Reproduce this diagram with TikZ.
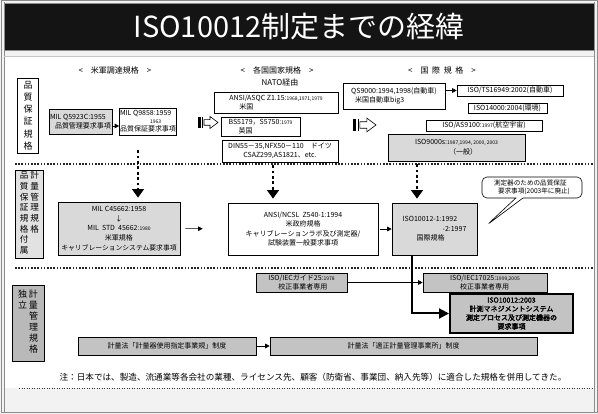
\documentclass[tikz,border=0pt]{standalone}
\usepackage{fontspec}
\setmainfont{Noto Sans CJK JP}
\newfontfamily\jpbold[FakeBold=2]{Noto Sans CJK JP}
\usetikzlibrary{arrows.meta,shapes.callouts}
\definecolor{pagebg}{HTML}{F2F2F2}
\definecolor{lg}{HTML}{D9D9D9}
\definecolor{mg}{HTML}{C3C3C3}
\definecolor{lab}{HTML}{E2E2E2}
\definecolor{labd}{HTML}{B9B9B9}
\definecolor{frm}{HTML}{8C8C8C}
\newcommand\myfs{\fontsize{7}{9.6}\selectfont}
\newcommand\myyr[1]{{\fontsize{5}{5}\selectfont #1}}
\begin{document}
\begin{tikzpicture}[x=1pt,y=-1pt,
  base/.style={inner sep=0.5pt, font=\myfs, align=left},
  sz/.style 2 args={minimum width=#1pt, minimum height=#2pt},
  wbox/.style={base, draw, fill=white, line width=0.6pt},
  gbox/.style={base, draw, fill=lg, line width=0.6pt},
  dbox/.style={base, draw, fill=mg, line width=0.6pt},
  hdr/.style={font=\fontsize{8}{9}\selectfont, inner sep=0pt},
  arr/.style={-{Triangle[length=4.5pt,width=4.5pt]}, line width=0.6pt},
  dotarr/.style={line width=2.8pt, dash pattern=on 2.8pt off 2.6pt, -{Triangle[length=8.5pt,width=11.5pt]}},
  thickarr/.style={line width=2pt, -{Triangle[length=10pt,width=10pt]}},
  sepline/.style={line width=1.6pt, dash pattern=on 1.6pt off 1.6pt, black!85},
  hollow/.pic={
    \fill[black] (0,-5.5) rectangle (2.6,5.5);
    \draw[line width=0.8pt] (4.4,-5.5) -- (4.4,5.5);
    \draw[line width=0.6pt, fill=white] (6,-2.8) -- (12,-2.8) -- (12,-6) -- (20,0) -- (12,6) -- (12,2.8) -- (6,2.8) -- cycle;
  }]
\useasboundingbox (0,0) rectangle (598,414);
% page frame
\fill[pagebg] (0,0) rectangle (598,414);
\fill[white] (4,57) rectangle (594,388);
\draw[frm, line width=1pt] (1,1) rectangle (597,413);
\draw[frm, line width=0.6pt] (4,2) -- (4,412) (594,2) -- (594,412);
\node[fill=black!92, draw=frm, line width=0.8pt, minimum width=590pt, minimum height=47pt, inner sep=0pt,
  text=white, font=\fontsize{29}{32}\selectfont] (title) at (299,26.5) {ISO10012制定までの経緯};
\draw[frm!50, line width=0.5pt] (4,56.5) -- (594,56.5);

% headers
\node[hdr] (h1) at (115,70) {<\quad 米軍調達規格\quad >};
\node[hdr] (h2) at (277,70) {<\quad 各国国家規格\quad >};
\node[hdr] (h3) at (280,82) {NATO経由};
\node[hdr] (h4) at (442,70) {<\quad 国\ \ 際\ \ 規\ \ 格\quad >};

% section labels
\node[draw, fill=white, line width=0.6pt, sz={21}{75}, inner sep=0pt, font=\fontsize{9}{12.2}\selectfont, align=center]
  (lab1) at (28,115.5) {品\\質\\保\\証\\規\\格};
\node[draw, fill=lab, line width=0.6pt, sz={28}{88}, inner sep=0pt, font=\fontsize{8.6}{10.7}\selectfont]
  (lab2) at (29.5,214) {\def\arraystretch{1}\begin{tabular}{@{}l@{\hspace{2pt}}l@{}}品&計\\質&量\\保&管\\証&理\\規&規\\格&格\\付&\\属&\end{tabular}};
\node[draw, fill=labd, line width=0.6pt, sz={32}{76}, inner sep=0pt, font=\fontsize{9}{11}\selectfont]
  (lab3) at (28,323) {\def\arraystretch{1}\begin{tabular}{@{}l@{\hspace{2pt}}l@{}}独&計\\立&量\\&管\\&理\\&規\\&格\end{tabular}};

% section 1
\node[gbox, sz={63}{25}] (q5923) at (80.5,121.5) {MIL Q5923C:1955\\\hspace*{5pt}品質管理要求事項};
\node[wbox, sz={50}{27}] (q9858) at (148,121.5) {MIL Q9858:1959\\[-2.5pt]\hspace*{30pt}\myyr{1963}\\[-1pt]品質保証要求事項};
\node[wbox, sz={124}{21}] (ansi15) at (276,102.5) {ANSI/ASQC Z1.15:\myyr{1968,1971,1979}\\\hspace*{10pt}米国};
\node[wbox, sz={79}{19}] (bs) at (260.5,126.5) {BS5179，S5750:\myyr{1979}\\\hspace*{10pt}英国};
\node[wbox, sz={116}{22}, align=center] (din) at (280,151) {DIN55－35,NFX50－110\quad ドイツ\\CSAZ299,AS1821、etc.};
\node[wbox, sz={102}{26}] (qs) at (394,96) {QS9000:1994,1998(自動車)\\\hspace*{4pt}米国自動車big3};
\node[wbox, sz={106}{11}] (ts) at (510,90.5) {ISO/TS16949:2002(自動車)};
\node[wbox, sz={79}{10}] (iso14) at (507.5,108) {ISO14000:2004(環境)};
\node[wbox, sz={116}{11}] (as91) at (484,125.5) {ISO/AS9100:\myyr{1997}(航空宇宙)};
\node[gbox, sz={137}{27}] (iso9000) at (456.5,147.5) {ISO9000s:\myyr{1987,1994, 2000, 2003}\\\hspace*{34pt}（一般）};

\draw[arr] ([yshift=-4.5pt]q5923.east) -- ([yshift=-4.5pt]q9858.west);
\draw[arr] (qs.east |- ts.west) -- (ts.west);
\pic at (198,122.5) {hollow};
\pic[scale=1.15] at (353,125) {hollow};

\draw[sepline] (15,164) -- (593,164);

% section 2
\node[gbox, sz={122}{53}, align=center] (c45662) at (119,228.5) {MIL C45662:1958\\↓\\MIL\ \ STD\ \ 45662:\myyr{1980}\\米軍規格\\{\fontsize{6.8}{9.6}\selectfont キャリブレーションシステム要求事項}};
\node[wbox, sz={150}{52}, align=center] (ncsl) at (303,229) {ANSI/NCSL\ \ Z540-1:1994\\米政府規格\\キャリブレーションラボ及び測定器/\\試験装置一般要求事項};
\node[gbox, sz={85}{52}] (iso1) at (434.5,229) {ISO10012-1:1992\\\hspace*{40pt}-2:1997\\\hspace*{14pt}国際規格};
\coordinate (cptr) at (487,225);
\node[rectangle callout, draw, fill=white, line width=0.6pt, rounded corners=5pt, sz={100}{21}, base,
  font=\fontsize{6.6}{8.6}\selectfont,
  callout absolute pointer={(cptr)}] (bubble) at (532,187.5) {測定器のための品質保証\\\hspace*{4pt}要求事項(2003年に廃止)};

\draw[arr, shorten <=5pt, shorten >=25pt] (c45662.east) -- (ncsl.west);
\draw[arr, shorten <=2pt] (ncsl.east) -- (iso1.west);

\draw[dotarr, shorten <=15pt, shorten >=4pt] ([xshift=-10pt]q9858.south) -- ([xshift=-10pt]q9858.south |- c45662.north);
\draw[dotarr, shorten <=3pt, shorten >=4pt] ([xshift=-7pt]din.south) -- ([xshift=-7pt]din.south |- ncsl.north);
\draw[dotarr, shorten <=3pt, shorten >=4pt] ([xshift=-39.5pt]iso9000.south) -- ([xshift=-39.5pt]iso9000.south |- iso1.north);

\draw[sepline] (15,268) -- (593,268);

% section 3
\node[dbox, sz={91}{19}] (g25) at (301.5,282.5) {ISO/IECガイド25:\myyr{1978}\\\hspace*{10pt}校正事業者専用};
\node[dbox, sz={124}{19}] (iec) at (485,282.5) {ISO/IEC17025:\myyr{1999,2005}\\\hspace*{10pt}校正事業者専用};
\node[dbox, line width=2pt, sz={123}{39}, align=center, font=\jpbold\fontsize{7}{8.8}\selectfont] (iso2003) at (511.5,313.5) {ISO10012:2003\\計測マネジメントシステム\\測定プロセス及び測定機器の\\要求事項};
\node[dbox, sz={178}{18}, align=center] (law1) at (167,346) {計量法「計量器使用指定事業規」制度};
\node[dbox, sz={267}{18}, align=center] (law2) at (403.5,346) {計量法「適正計量管理事業所」制度};

\draw[arr] (g25.east) -- (iec.west);
\draw[arr] (law1.east) -- (law2.west);
\draw[thickarr] ([xshift=-22.5pt]iso1.south) |- (iso2003.west);

\node[font=\fontsize{8.6}{9}\selectfont, inner sep=0pt] (note) at (313,377) {注：日本では、製造、流通業等各会社の業種、ライセンス先、顧客（防衛省、事業団、納入先等）に適合した規格を併用してきた。};
\draw[black!80, line width=0.8pt, dash pattern=on 1pt off 1.5pt] (19,388) -- (594,388);
\end{tikzpicture}
\end{document}
